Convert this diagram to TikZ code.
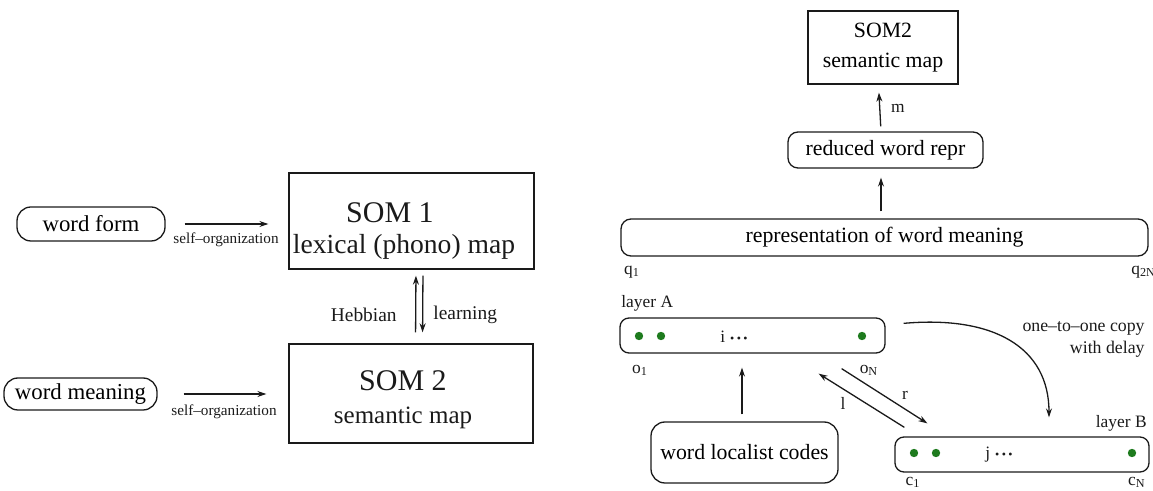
\documentclass[tikz,border=0pt]{standalone}
\usepackage{fontspec}
\setmainfont{Liberation Serif}
\usetikzlibrary{arrows.meta}
\definecolor{dotgreen}{HTML}{1E7B1E}
\definecolor{inkgray}{HTML}{1A1A1A}
\newcommand{\unitdots}{\hspace{2.5pt}\textbullet\hspace{1.2pt}\textbullet\hspace{1.2pt}\textbullet}

\begin{document}
\begin{tikzpicture}[x=0.5pt,y=-0.5pt,
  ln/.style={line width=0.65pt, draw=inkgray},
  sqbox/.style={ln, rectangle, inner sep=0pt},
  rdbox/.style={sqbox, rounded corners=5pt},
  arr/.style={ln, -{Stealth[length=4.5pt,width=3pt]}},
  lbl/.style={inner sep=0pt, text=inkgray},
  gdot/.style={circle, fill=dotgreen, inner sep=0pt, minimum size=4.2pt},
  fA/.style={font=\fontsize{15}{15}\selectfont},
  fB/.style={font=\fontsize{11.4}{12}\selectfont},
  fC/.style={font=\fontsize{10.9}{12}\selectfont},
  fS/.style={font=\fontsize{8.7}{10}\selectfont},
  fD/.style={font=\fontsize{6}{8}\selectfont},
  fT/.style={font=\fontsize{7.6}{8}\selectfont},
]
\useasboundingbox (0,0) rectangle (1153,491);

% ---------- left: two self-organizing maps ----------
\node[rdbox, rounded corners=7pt, minimum width=74pt, minimum height=17pt, fB] (wform) at (91,224) {word form};
\node[rdbox, rounded corners=7pt, minimum width=76.5pt, minimum height=16pt, fB] (wmean) at (80.5,394) {word meaning};

\node[sqbox, minimum width=122.5pt, minimum height=48pt] (som1) at (411.5,221) {};
\node[sqbox, minimum width=122pt, minimum height=49.5pt] (som2L) at (411,393.5) {};

\node[lbl, fA] (som1a) at (390,213) {SOM 1};
\node[lbl, font=\fontsize{13.8}{14}\selectfont] (som1b) at (404,247) {lexical (phono) map};
\node[lbl, fA] (som2a) at (403,381) {SOM 2};
\node[lbl, font=\fontsize{12.5}{13}\selectfont] (som2b) at (403,418) {semantic map};

\draw[arr, shorten <=9.5pt, shorten >=10pt] (wform) -- (wform -| som1.west);
\node[lbl, fT] (so1) at (226,240) {self--organization};
\draw[arr, shorten <=13pt, shorten >=11pt] (wmean) -- (wmean -| som2L.west);
\node[lbl, fT] (so2) at (224,412) {self--organization};

\draw[arr, shorten <=5.5pt, shorten >=3pt] ([xshift=2.25pt]som2L.north) -- ([xshift=2.25pt]som1.south);
\draw[arr, shorten <=3pt, shorten >=5.5pt] ([xshift=5.75pt]som1.south) -- ([xshift=5.75pt]som2L.north);
\node[lbl, anchor=east, font=\fontsize{9.7}{10}\selectfont] (hebb) at (397,315) {Hebbian};
\node[lbl, anchor=west, font=\fontsize{9.7}{10}\selectfont] (learn) at (433,315) {learning};

% ---------- right: layered network ----------
\node[sqbox, minimum width=75pt, minimum height=36.5pt, align=center,
      font=\fontsize{10.9}{15}\selectfont] (som2R) at (883,47.5) {SOM2\\semantic map};
\node[rdbox, minimum width=97.5pt, minimum height=18pt, fC] (red) at (885.5,150) {reduced word repr};
\node[rdbox, minimum width=263.5pt, minimum height=18.5pt, fC] (repr) at (884.5,237.5) {representation of word meaning};
\node[rdbox, rounded corners=4.5pt, minimum width=132.5pt, minimum height=17.5pt] (layA) at (752.5,335.5) {};
\node[rdbox, rounded corners=7pt, minimum width=93.5pt, minimum height=30.5pt, fC] (wloc) at (744.5,452.5) {word localist codes};
\node[rdbox, rounded corners=4.5pt, minimum width=127pt, minimum height=17.5pt] (layB) at (1022,454.5) {};

\draw[arr, shorten <=2.5pt, shorten >=4pt] ([xshift=-2.25pt]red.north) -- ([xshift=-2.25pt]som2R.south);
\node[lbl, fS] (mlab) at (898,108) {m};
\draw[arr, shorten <=3.5pt, shorten >=4.5pt] ([xshift=-1.75pt]repr.north) -- ([xshift=-2.25pt]red.south);
\draw[arr, shorten <=3.5pt, shorten >=7pt] ([xshift=-1.25pt]wloc.north) -- ([xshift=-5.25pt]layA.south);

\node[lbl, fS] (q1) at (632,272) {q\textsubscript{1}};
\node[lbl, fS, anchor=west] (q2n) at (1131,272) {q\textsubscript{2N}};

\node[lbl, fS, anchor=west] (labA) at (621,303) {layer A};
\node[lbl, fS, anchor=east] (labB) at (1147,423) {layer B};

% units of layer A
\node[gdot] (a1) at (639,336) {};
\node[gdot] (a2) at (661,336) {};
\node[gdot] (aN) at (862,336) {};
\node[lbl, fS, anchor=west] (ai) at (720,337) {i{\fontsize{6}{8}\selectfont\unitdots}};
\node[lbl, fS] (o1) at (640,370) {o\textsubscript{1}};
\node[lbl, fS] (oN) at (869,370) {o\textsubscript{N}};

% units of layer B
\node[gdot] (b1) at (914,453) {};
\node[gdot] (b2) at (936,453) {};
\node[gdot] (bN) at (1132,453) {};
\node[lbl, fS, anchor=west] (bj) at (985,455) {j{\fontsize{6}{8}\selectfont\unitdots}};
\node[lbl, fS] (c1) at (913,482) {c\textsubscript{1}};
\node[lbl, fS] (cN) at (1137,482) {c\textsubscript{N}};

% lateral connections between the layers
\draw[arr] ([xshift=5pt,yshift=4.5pt]layB.north west) -- ([xshift=-33.5pt,yshift=-10pt]layA.south east);
\draw[arr] ([xshift=-22pt,yshift=-7.5pt]layA.south east) -- ([xshift=16.5pt,yshift=6.5pt]layB.north west);
\node[lbl, fS] (llab) at (843,403) {l};
\node[lbl, fS] (rlab) at (905,395) {r};

% delayed copy from layer A to layer B
\draw[arr] ([xshift=9pt,yshift=-3pt]layA.north east) .. controls +(45pt,4pt) and +(0pt,35pt) .. ([xshift=13.5pt,yshift=9.5pt]layB.north);
\node[lbl, fS, anchor=east, align=right, font=\fontsize{8.9}{11}\selectfont] (copy) at (1145,339) {one--to--one copy\\with delay};
\end{tikzpicture}
\end{document}
